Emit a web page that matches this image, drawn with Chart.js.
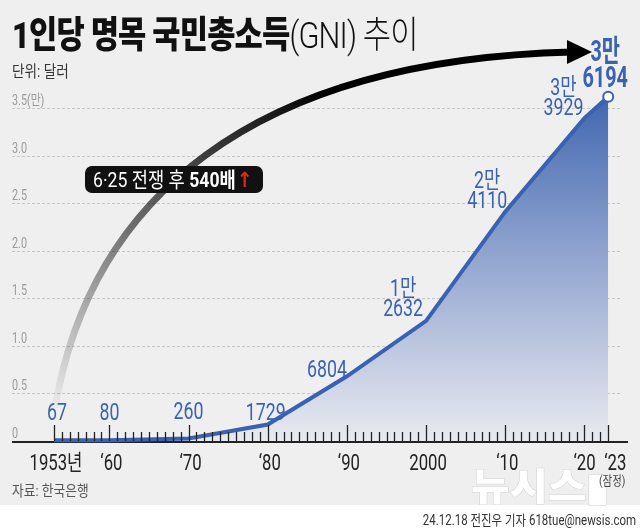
<!DOCTYPE html>
<html lang="ko">
<head>
<meta charset="utf-8">
<script src="https://cdn.jsdelivr.net/npm/chart.js@4/dist/chart.umd.min.js"></script>
<style>
  html, body { margin: 0; padding: 0; background: #fff; }
  #wrap { position: relative; width: 640px; height: 530px; overflow: hidden; }
  #chart { position: absolute; left: 0; top: 0; }
  .txt { position: absolute; white-space: nowrap; transform-origin: 0 0; font-family: Roboto, "Noto Sans CJK KR", sans-serif; }
  #title { left: 12px; top: 5px; font-size: 37px; color: #111; transform: scaleX(0.83); letter-spacing: -1px; }
  #title b { font-weight: 900; }
  #title span { font-weight: 300; }
  #unit { left: 12px; top: 58px; font-size: 16px; color: #333; transform: scaleX(0.85); }
  #source { left: 12px; top: 479px; font-size: 15px; color: #555; transform: scaleX(0.85); }
  #credit { right: 4px; top: 509px; font-size: 14px; color: #333; transform-origin: 100% 0; transform: scaleX(0.82); }
</style>
</head>
<body>
<div id="wrap">
  <canvas id="chart" width="640" height="530"></canvas>
  <div class="txt" id="title"><b>1인당 명목 국민총소득</b><span>(GNI) 추이</span></div>
  <div class="txt" id="unit">단위: 달러</div>
  <div class="txt" id="source">자료: 한국은행</div>
  <div class="txt" id="credit">24.12.18 전진우 기자 618tue@newsis.com</div>
</div>
<script>
// data
const years = [1953, 1960, 1970, 1980, 1990, 2000, 2010, 2020, 2023];
const gni = [67, 80, 260, 1729, 6804, 12632, 24110, 33929, 36194];
const xTickYears = [1953, 1960, 1970, 1980, 1990, 2000, 2010, 2020, 2023];
const xTickLabels = ['1953년', '‘60', '‘70', '‘80', '‘90', '2000', '‘10', '‘20', '‘23'];
const yTickValues = [0, 5000, 10000, 15000, 20000, 25000, 30000, 35000];
const yTickLabels = ['0', '0.5', '1.0', '1.5', '2.0', '2.5', '3.0', '3.5(만)'];

const BLUE = '#3a62b3';
const FONT = 'Roboto, "Noto Sans CJK KR"';

// label placement per point (offset of text block from the point)
const labelPlace = [
  { dx: 3, dy: -20 }, { dx: 0, dy: -20 }, { dx: 0, dy: -20 }, { dx: -2, dy: -5 },
  { dx: -20, dy: 1 }, { dx: -23, dy: -5 }, { dx: -18, dy: -4 }, { dx: -21, dy: -3 },
  { dx: -3, dy: -10, big: true }
];
// small horizontal nudges for the x labels at the crowded right end
const xLabelNudge = [2, 2, 2, 2, 2, 2, 2, 0, 7];

function splitMan(v) {
  if (v >= 10000) return [Math.floor(v / 10000) + '만', String(v % 10000)];
  return [String(v)];
}

function cText(ctx, str, x, y, font, color, align, sx) {
  ctx.save();
  ctx.font = font;
  ctx.fillStyle = color;
  ctx.textAlign = 'left';
  ctx.textBaseline = 'alphabetic';
  const w = ctx.measureText(str).width * sx;
  let left = x;
  if (align === 'center') left = x - w / 2;
  else if (align === 'right') left = x - w;
  ctx.translate(left, y);
  ctx.scale(sx, 1);
  ctx.fillText(str, 0, 0);
  ctx.restore();
  return w;
}

const backPlugin = {
  id: 'back',
  beforeDraw(chart) {
    const ctx = chart.ctx;
    ctx.save();
    ctx.fillStyle = '#efefef';
    ctx.fillRect(0, 0, 640, 505);
    ctx.fillStyle = '#ffffff';
    ctx.fillRect(0, 505, 640, 25);
    // newsis watermark
    ctx.translate(471, 500);
    ctx.scale(1.1, 1);
    ctx.font = '900 38px "Noto Sans CJK KR"';
    ctx.lineWidth = 1;
    ctx.strokeStyle = '#d2d2d2';
    ctx.fillStyle = '#ffffff';
    ctx.strokeText('뉴시스▮', 0, 0);
    ctx.fillText('뉴시스▮', 0, 0);
    ctx.restore();
  },
  beforeDatasetsDraw(chart) {
    const ctx = chart.ctx;
    const xs = chart.scales.x, ys = chart.scales.y;
    const area = chart.chartArea;
    ctx.save();
    // dashed grid
    ctx.strokeStyle = '#c6c6c6';
    ctx.lineWidth = 1;
    ctx.setLineDash([3, 2]);
    yTickValues.forEach((v, i) => {
      const y = Math.round(ys.getPixelForValue(v)) + 0.5;
      if (v > 0) {
        ctx.beginPath();
        ctx.moveTo(area.left, y);
        ctx.lineTo(area.right - 8, y);
        ctx.stroke();
      }
      cText(ctx, yTickLabels[i], area.left, y - 4, '15px ' + FONT, '#9a9a9a', 'left', 0.72);
    });
    ctx.setLineDash([]);

    // curved arrow
    const p0 = [55, 408], p1 = [90, 200], p2 = [250, 60], p3 = [572, 52];
    const g = ctx.createLinearGradient(55, 408, 330, 90);
    g.addColorStop(0, 'rgba(0,0,0,0.02)');
    g.addColorStop(0.45, 'rgba(0,0,0,0.55)');
    g.addColorStop(1, 'rgba(0,0,0,1)');
    ctx.strokeStyle = g;
    ctx.lineWidth = 7;
    ctx.beginPath();
    ctx.moveTo(p0[0], p0[1]);
    ctx.bezierCurveTo(p1[0], p1[1], p2[0], p2[1], p3[0], p3[1]);
    ctx.stroke();
    ctx.fillStyle = '#000';
    ctx.beginPath();
    ctx.moveTo(592, 52);
    ctx.lineTo(567, 40);
    ctx.lineTo(567, 64);
    ctx.closePath();
    ctx.fill();

    // x axis line
    const base = Math.round(ys.getPixelForValue(0));
    ctx.strokeStyle = '#222';
    ctx.lineWidth = 2;
    ctx.beginPath();
    ctx.moveTo(area.left, base + 1);
    ctx.lineTo(area.right, base + 1);
    ctx.stroke();
    xTickYears.forEach((yr, i) => {
      const x = xs.getPixelForValue(yr);
      cText(ctx, xTickLabels[i], x + xLabelNudge[i], base + 29, '22px ' + FONT, '#222', 'center', 0.76);
    });
    cText(ctx, '(잠정)', xs.getPixelForValue(2023) + 4, base + 44, '13px ' + FONT, '#444', 'center', 0.8);
    ctx.restore();
  },
  afterDatasetsDraw(chart) {
    const ctx = chart.ctx;
    const xs = chart.scales.x, ys = chart.scales.y;
    const meta = chart.getDatasetMeta(0);
    ctx.save();
    // year ticks on the axis, drawn over the area fill
    const base = Math.round(ys.getPixelForValue(0));
    ctx.strokeStyle = '#222';
    ctx.lineWidth = 1.3;
    for (let yr = xTickYears[0]; yr <= xTickYears[xTickYears.length - 1]; yr++) {
      const x = Math.round(xs.getPixelForValue(yr)) + 0.5;
      const len = xTickYears.includes(yr) ? 16 : 9;
      ctx.beginPath();
      ctx.moveTo(x, base);
      ctx.lineTo(x, base - len);
      ctx.stroke();
    }

    meta.data.forEach((pt, i) => {
      const pl = labelPlace[i];
      const lines = splitMan(gni[i]);
      const font = pl.big ? 'bold 30px ' + FONT : '24px ' + FONT;
      const lh = pl.big ? 26 : 20;
      const sx = pl.big ? 0.66 : 0.74;
      let yb = pt.y + pl.dy;
      for (let k = lines.length - 1; k >= 0; k--) {
        cText(ctx, lines[k], pt.x + pl.dx, yb, font, BLUE, 'center', sx);
        yb -= lh;
      }
    });

    // banner
    const bx = 85, by = 166, bw = 178, bh = 27;
    ctx.fillStyle = '#111';
    ctx.beginPath();
    ctx.roundRect(bx, by, bw, bh, 7);
    ctx.fill();
    let x = bx + 8;
    const yb = by + 21;
    x += cText(ctx, '6·25 전쟁 후 ', x, yb, '21px ' + FONT, '#fff', 'left', 0.84);
    x += cText(ctx, '540배', x, yb, 'bold 21px ' + FONT, '#fff', 'left', 0.84);
    cText(ctx, '↑', x + 1, yb, 'bold 21px "DejaVu Sans"', '#e8231c', 'left', 0.9);
    ctx.restore();
  }
};

const ctx = document.getElementById('chart').getContext('2d');
new Chart(ctx, {
  type: 'line',
  data: {
    datasets: [{
      data: years.map((yr, i) => ({ x: yr, y: gni[i] })),
      borderColor: BLUE,
      borderWidth: 4,
      tension: 0,
      clip: false,
      fill: 'origin',
      backgroundColor: (c) => {
        const a = c.chart.chartArea;
        if (!a) return 'rgba(70,105,177,0.5)';
        const g = c.chart.ctx.createLinearGradient(0, 97, 0, a.bottom);
        g.addColorStop(0, '#4267b0');
        g.addColorStop(0.5, '#98aad2');
        g.addColorStop(1, '#e9eaf0');
        return g;
      },
      pointRadius: (c) => (c.dataIndex === years.length - 1 ? 5 : 0),
      pointBackgroundColor: '#fff',
      pointBorderColor: BLUE,
      pointBorderWidth: 2
    }]
  },
  options: {
    responsive: false,
    animation: false,
    devicePixelRatio: 1,
    layout: { padding: { left: 12, right: 12, top: 90, bottom: 89 } },
    plugins: { legend: { display: false }, tooltip: { enabled: false } },
    scales: {
      x: { type: 'linear', min: 1947.7, max: 2025.5, display: false },
      y: { min: 0, max: 36893, display: false }
    }
  },
  plugins: [backPlugin]
});
</script>
</body>
</html>
